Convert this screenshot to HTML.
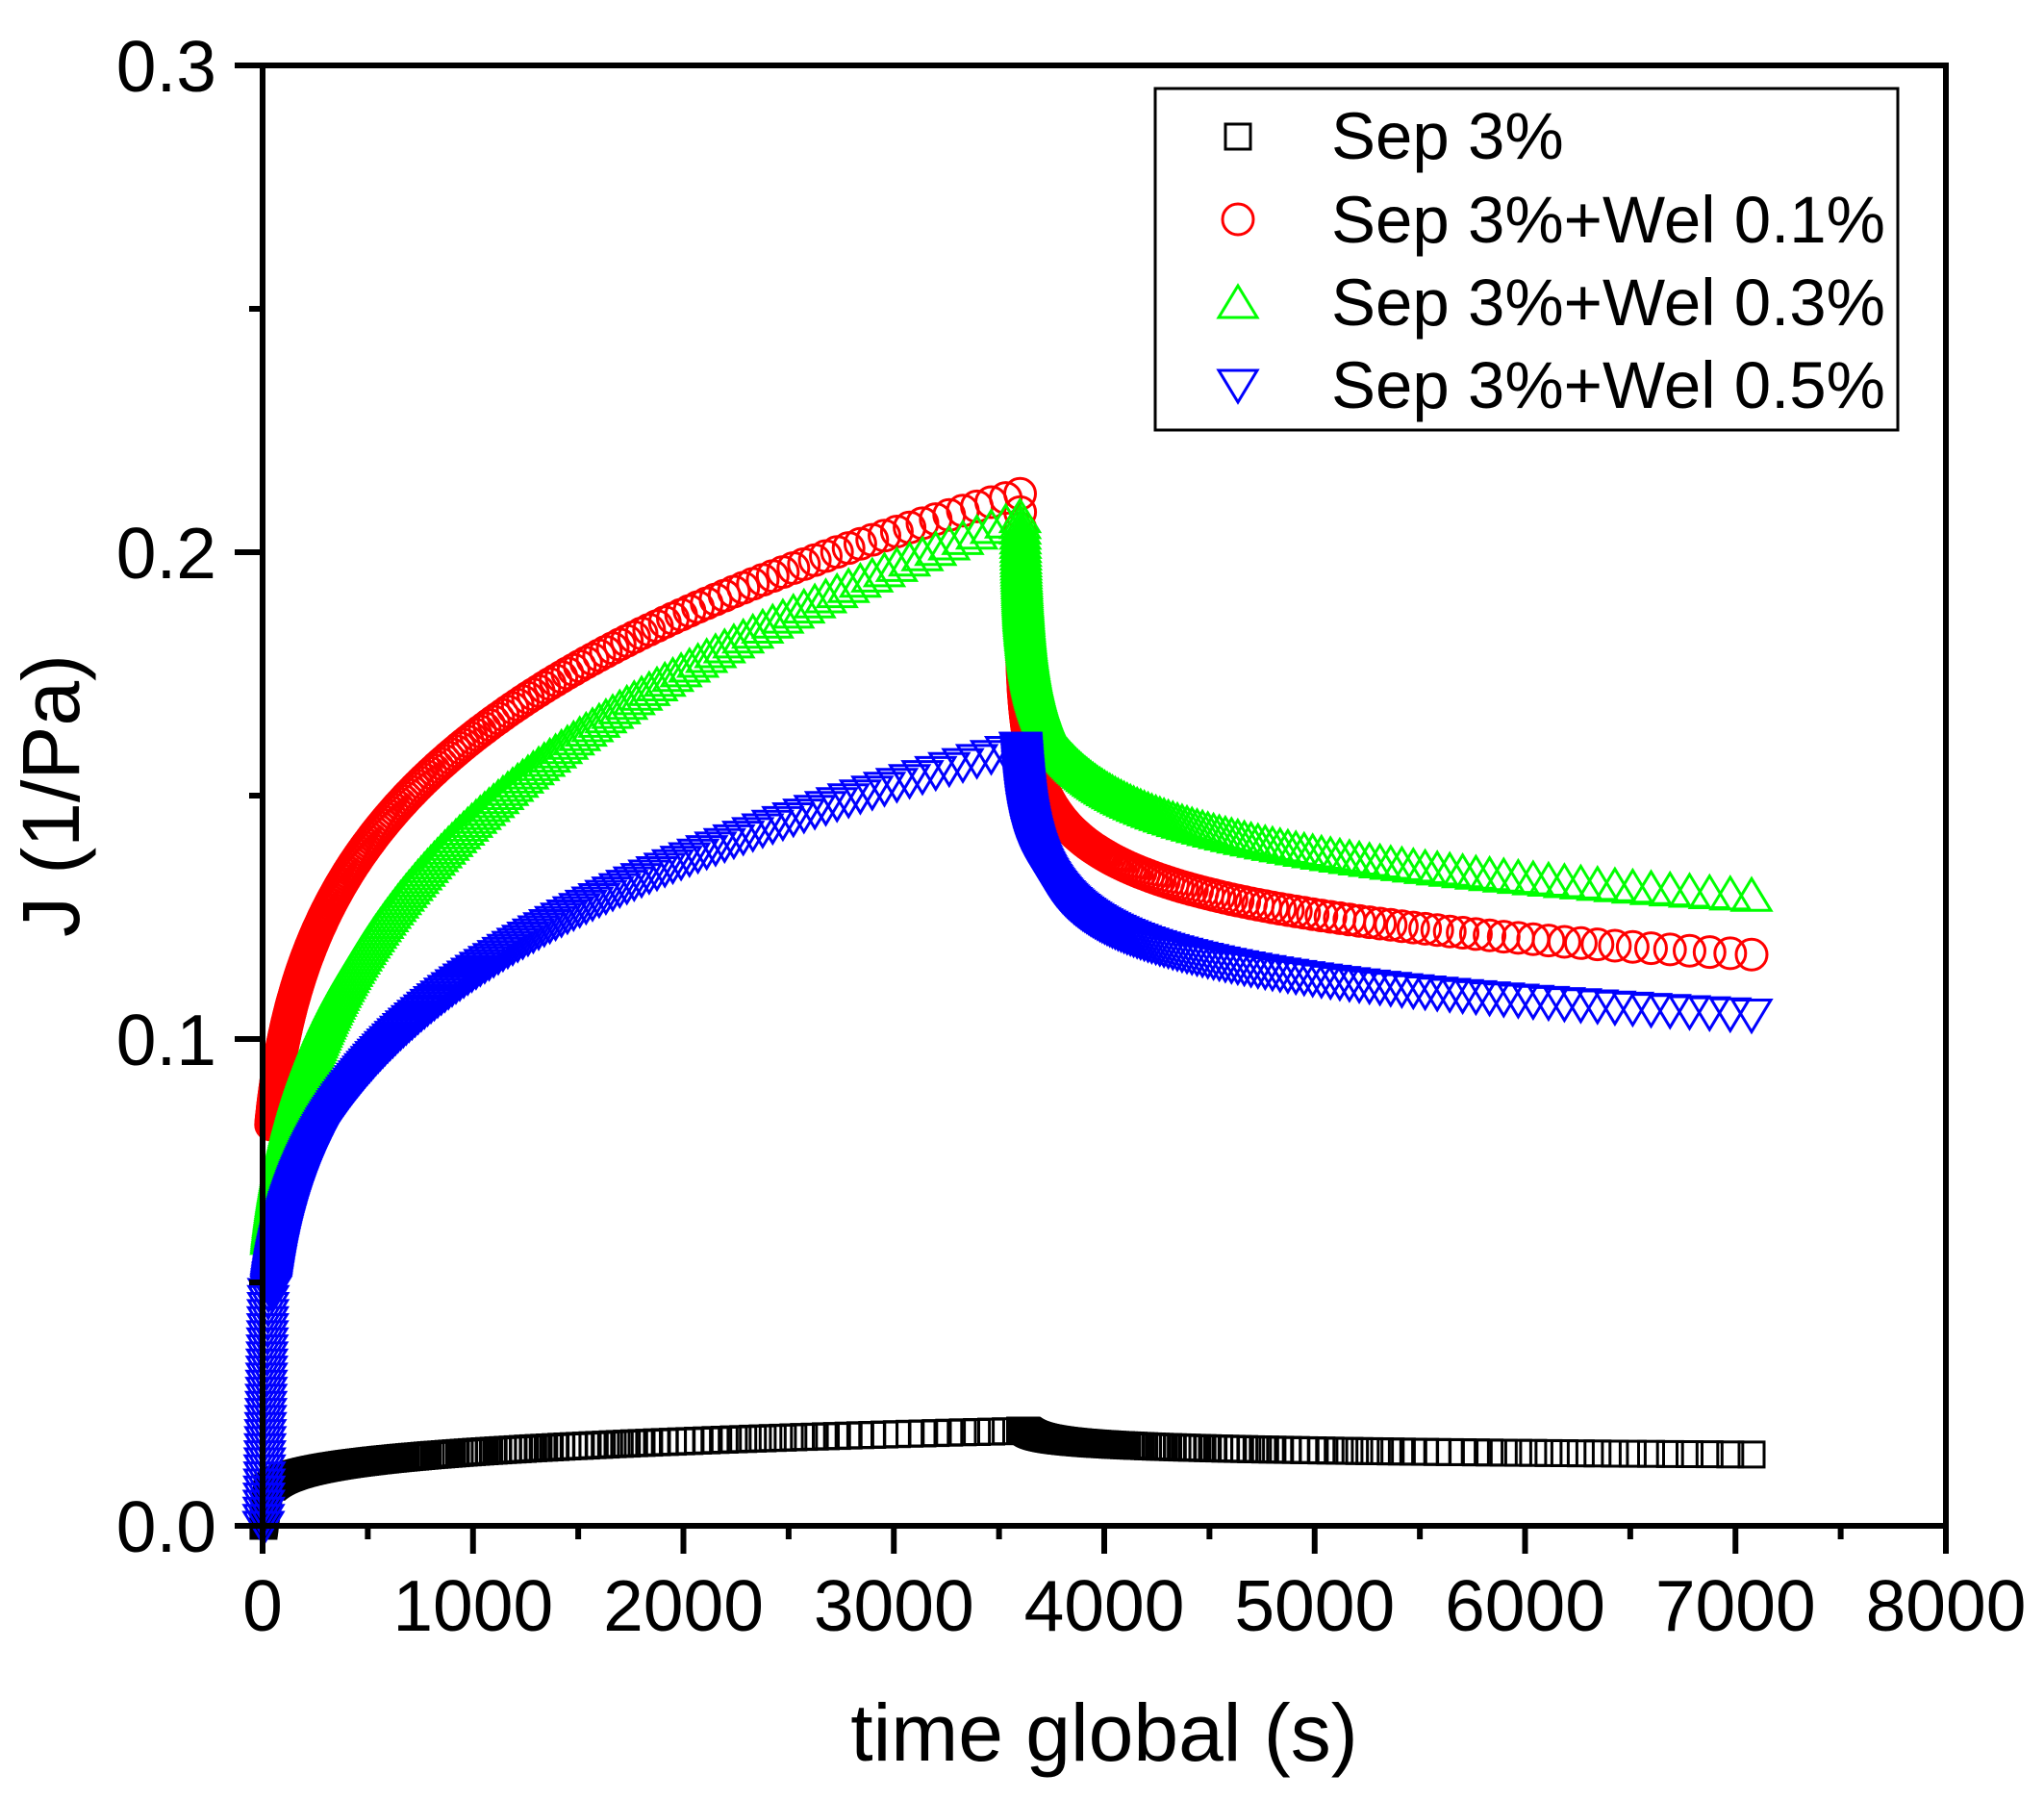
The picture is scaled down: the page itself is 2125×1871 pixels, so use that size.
<!DOCTYPE html>
<html><head><meta charset="utf-8"><style>
html,body{margin:0;padding:0;background:#fff;}
svg{display:block;}
text{font-family:"Liberation Sans",Arial,sans-serif;fill:#000;}
</style></head><body>
<svg id="s" width="2125" height="1871" xmlns="http://www.w3.org/2000/svg">
<g id="data"></g>
<rect x="273" y="68" width="1750" height="1518" fill="none" stroke="#000" stroke-width="6"/>
<g id="ticks" stroke="#000" stroke-width="6"></g>
<g font-size="75" text-anchor="middle" id="xl"></g>
<g font-size="75" text-anchor="end" id="yl"></g>
<text x="1148" y="1830" font-size="84" text-anchor="middle">time global (s)</text>
<text transform="translate(82,827) rotate(-90)" font-size="84" text-anchor="middle">J (1/Pa)</text>
<rect x="1201" y="92" width="772" height="355" fill="#fff" stroke="#000" stroke-width="3"/>
<g font-size="69">
<text x="1384" y="165">Sep 3%</text>
<text x="1384" y="252">Sep 3%+Wel 0.1%</text>
<text x="1384" y="338">Sep 3%+Wel 0.3%</text>
<text x="1384" y="424">Sep 3%+Wel 0.5%</text>
</g>
<g fill="none" stroke-width="3">
<rect x="1274" y="129" width="26" height="26" stroke="#000"/>
<circle cx="1287" cy="228" r="16" stroke="#f00"/>
<polygon points="1287,297 1307,330 1267,330" stroke="#0f0"/>
<polygon points="1267,385 1307,385 1287,418" stroke="#00f"/>
</g>
</svg>
<script>
var X=function(t){return 273+t*0.21875;},Y=function(j){return 1586-j*5060;};
var ns="http://www.w3.org/2000/svg",tk=document.getElementById('ticks');
function ln(x1,y1,x2,y2){var l=document.createElementNS(ns,'line');l.setAttribute('x1',x1);l.setAttribute('y1',y1);l.setAttribute('x2',x2);l.setAttribute('y2',y2);tk.appendChild(l);}
var xl=document.getElementById('xl'),yl=document.getElementById('yl');
for(var t=0;t<=8000;t+=500){var x=X(t);ln(x,1586,x,1586+(t%1000?14:29));
if(t%1000==0){var e=document.createElementNS(ns,'text');e.setAttribute('x',x);e.setAttribute('y',1695);e.textContent=t;xl.appendChild(e);}}
for(var k=0;k<=6;k++){var j=k*0.05,y=Y(j);ln(273,y,273-(k%2?14:29),y);
if(k%2==0){var e=document.createElementNS(ns,'text');e.setAttribute('x',225);e.setAttribute('y',y+27);e.textContent=(j).toFixed(1);yl.appendChild(e);}}
var S=[
{c:'#000',m:'sq',t0:40,a:[0.0195,0.197],r:[0.0175,0.063,0.0195]},
{c:'#f00',m:'ci',t0:40,a:[0.212,0.21],r:[0.145,0.0747,0.212]},
{c:'#0f0',m:'up',t0:40,a:[0.207,0.28],r:[0.159,0.0733,0.207]},
{c:'#00f',m:'dn',t0:40,a:[0.16,0.266],r:[0.130,0.0746,0.16]}];
var g=document.getElementById('data'),h='';
S.forEach(function(s){
 var pts=[];
 var j40=s.a[0]*Math.pow(s.t0/3600,s.a[1]);
 if(s.m=='dn'||s.m=='sq'){for(var u=0;u<=1;u+=0.03)pts.push([u*s.t0*0.6+4,j40*u]);}
 for(var t=s.t0;t<=3600;t+=Math.max(1,t*0.02)){pts.push([t,s.a[0]*Math.pow(t/3600,s.a[1])]);}
 for(var q=0;q<=3510;q+=Math.max(0.5,q*0.03)){var base=s.r[0]*Math.pow((q+5)/205,-s.r[1]);var j0=s.r[0]*Math.pow(5/205,-s.r[1]);var j=base+(s.r[2]-j0)*Math.exp(-q/4);if(j>s.r[2])j=s.r[2];pts.push([3600+q,j]);}
 pts.forEach(function(p){var x=X(p[0]),y=Y(p[1]);
  if(s.m=='sq')h+='<rect x="'+(x-13).toFixed(1)+'" y="'+(y-13).toFixed(1)+'" width="26" height="26" fill="none" stroke="#000" stroke-width="3"/>';
  else if(s.m=='ci')h+='<circle cx="'+x.toFixed(1)+'" cy="'+y.toFixed(1)+'" r="16" fill="none" stroke="#f00" stroke-width="3"/>';
  else if(s.m=='up')h+='<polygon points="'+x.toFixed(1)+','+(y-19).toFixed(1)+' '+(x+20).toFixed(1)+','+(y+14).toFixed(1)+' '+(x-20).toFixed(1)+','+(y+14).toFixed(1)+'" fill="none" stroke="#0f0" stroke-width="3"/>';
  else h+='<polygon points="'+(x-20).toFixed(1)+','+(y-14).toFixed(1)+' '+(x+20).toFixed(1)+','+(y-14).toFixed(1)+' '+x.toFixed(1)+','+(y+19).toFixed(1)+'" fill="none" stroke="#00f" stroke-width="3"/>';
 });
});
g.innerHTML=h;
</script>
</body></html>
